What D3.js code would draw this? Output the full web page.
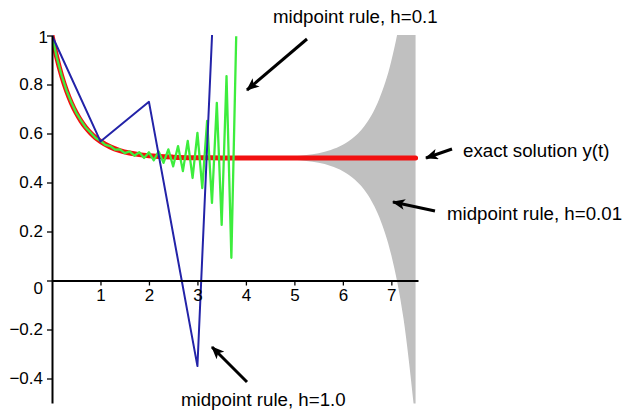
<!DOCTYPE html>
<html>
<head>
<meta charset="utf-8">
<script src="https://cdn.jsdelivr.net/npm/d3@7"></script>
<style>
  body { margin:0; background:#fff; }
  svg { display:block; font-family:"Liberation Sans", Arial, sans-serif; }
</style>
</head>
<body>
<script>
// exact solution y(t)
var exactT = [0,0.1,0.2,0.3,0.4,0.5,0.6,0.7,0.8,0.9,1.0,1.2,1.4,1.6,1.8,2.0,2.5,3.0,3.5,4.0,5.0,6.0,7.0,7.5];
var exactY = [1,0.9094,0.8352,0.7744,0.7247,0.6839,0.6506,0.6233,0.6009,0.5826,0.5677,0.5454,0.5304,0.5204,0.5137,0.5092,0.5034,0.5012,0.5005,0.5002,0.5,0.5,0.5,0.5];

// midpoint rule h=1.0
var blueT = [0,1,2,3,4];
var blueY = [1,0.5677,0.7293,-0.3494,4.13];

// midpoint rule h=0.1
var greenT = [0,0.1,0.2,0.3,0.4,0.5,0.6,0.7,0.8,0.9,1.0,1.1,1.2,1.3,1.4,1.5,1.6,1.7,1.8,1.9,
              2.0,2.1,2.2,2.3,2.4,2.5,2.6,2.7,2.8,2.9,3.0,3.1,3.2,3.3,3.4,3.5,3.6,3.7,3.8];
var greenY = [1.0,0.9094,0.8363,0.7749,0.7263,0.6843,0.6526,0.6233,0.6032,0.5820,
              0.5704,0.5538,0.5489,0.5343,0.5352,0.5202,0.5271,0.5094,0.5233,0.5001,
              0.5233,0.4907,0.5270,0.4799,0.5350,0.4659,0.5487,0.4465,0.5701,0.4185,
              0.6027,0.3774,0.6517,0.3167,0.7250,0.2267,0.8344,0.0929,0.9972];

// midpoint rule h=0.01, drawn as its envelope (oscillation too fine to see)
var grayT   = [4.0,4.5,5.0,5.25,5.5,5.75,6.0,6.25,6.5,6.75,7.0,7.25,7.5];
var grayAmp = [0.001,0.0027,0.0073,0.012,0.0198,0.0326,0.0537,0.0886,0.146,0.241,0.397,0.654,1.08];

var xTicks = [1,2,3,4,5,6,7];
var yTicks = [-0.4,-0.2,0,0.2,0.4,0.6,0.8,1];
var yTickLabels = ['\u22120.4','\u22120.2','0','0.2','0.4','0.6','0.8','1'];

var W = 628, H = 410;
var svg = d3.select('body').append('svg').attr('width',W).attr('height',H);

var x = d3.scaleLinear().domain([0,7.55]).range([52,418]);
var y = d3.scaleLinear().domain([-0.5,1]).range([403,35.5]);

svg.append('defs').append('clipPath').attr('id','plotclip')
  .append('rect').attr('x',x(0)).attr('y',y(1)-0.5).attr('width',x(7.55)-x(0)+2).attr('height',y(-0.5)-y(1)+1);

var plot = svg.append('g').attr('clip-path','url(#plotclip)');

// gray band
var band = d3.area().x(function(d,i){return x(grayT[i]);})
  .y0(function(d){return y(0.5-d);}).y1(function(d){return y(0.5+d);})
  .curve(d3.curveMonotoneX);
plot.append('path').datum(grayAmp).attr('d',band).attr('fill','#c0c0c0');

function lineOf(ts){
  return d3.line().x(function(d,i){return x(ts[i]);}).y(function(d){return y(d);});
}

plot.append('path').datum(exactY).attr('d',lineOf(exactT).curve(d3.curveMonotoneX))
  .attr('fill','none').attr('stroke','#f21010').attr('stroke-width',5)
  .attr('stroke-linecap','round').attr('stroke-linejoin','round');

plot.append('path').datum(greenY).attr('d',lineOf(greenT))
  .attr('fill','none').attr('stroke','#3ded3d').attr('stroke-width',2.3)
  .attr('stroke-linejoin','round');

plot.append('path').datum(blueY).attr('d',lineOf(blueT))
  .attr('fill','none').attr('stroke','#2323a8').attr('stroke-width',2)
  .attr('stroke-linejoin','round');

// axes
var minorX = d3.range(0.2,7.55,0.2).filter(function(v){return Math.abs(v-Math.round(v))>0.01;});
var minorY = d3.range(-0.48,1.0,0.04).filter(function(v){return Math.abs(v*5-Math.round(v*5))>0.01;});

var gx = svg.append('g').attr('transform','translate(0,'+y(0)+')');
gx.call(d3.axisBottom(x).tickValues(minorX).tickFormat('').tickSize(3).tickSizeOuter(0));
gx.call(d3.axisBottom(x).tickValues(xTicks).tickFormat(d3.format('d')).tickSize(5).tickSizeOuter(0).tickPadding(3.5));

var gy = svg.append('g').attr('transform','translate('+x(0)+',0)');
gy.call(d3.axisLeft(y).tickValues(minorY).tickFormat('').tickSize(3).tickSizeOuter(0));
gy.call(d3.axisLeft(y).tickValues(yTicks).tickFormat(function(d,i){return yTickLabels[i];}).tickSize(5).tickSizeOuter(0).tickPadding(4));

svg.selectAll('.domain').attr('stroke','#000').attr('stroke-width',2);
svg.selectAll('.tick line').attr('stroke','#000').attr('stroke-width',1.3);
svg.selectAll('.tick text').attr('font-size',17).attr('fill','#000')
  .attr('font-family','"Liberation Sans", Arial, sans-serif');
// Maple puts the origin label below the x axis, and the "1" tight to the axis
gy.selectAll('.tick text').filter(function(d){return d===0;}).attr('dy','0.78em');
gy.selectAll('.tick text').filter(function(d){return d===1;}).attr('x',-4).attr('dy','0.4em');

// annotations
svg.append('defs').append('marker').attr('id','head')
  .attr('viewBox','0 0 12 10').attr('refX',11).attr('refY',5)
  .attr('markerWidth',13).attr('markerHeight',11).attr('markerUnits','userSpaceOnUse')
  .attr('orient','auto')
  .append('path').attr('d','M0,0 L12,5 L0,10 L3,5 Z').attr('fill','#000');

var notes = [
  {text:'midpoint rule, h=0.1',  tx:273, ty:23,  x1:307, y1:39,  x2:247, y2:90},
  {text:'exact solution y(t)',   tx:463, ty:157, x1:452, y1:149, x2:426, y2:158},
  {text:'midpoint rule, h=0.01', tx:447, ty:220, x1:435, y1:211, x2:393, y2:202},
  {text:'midpoint rule, h=1.0',  tx:181, ty:406, x1:247, y1:382, x2:212, y2:347}
];
notes.forEach(function(n){
  svg.append('line').attr('x1',n.x1).attr('y1',n.y1).attr('x2',n.x2).attr('y2',n.y2)
    .attr('stroke','#000').attr('stroke-width',3).attr('marker-end','url(#head)');
  svg.append('text').attr('x',n.tx).attr('y',n.ty).text(n.text)
    .attr('font-size',18.7).attr('fill','#000');
});
</script>
</body>
</html>
